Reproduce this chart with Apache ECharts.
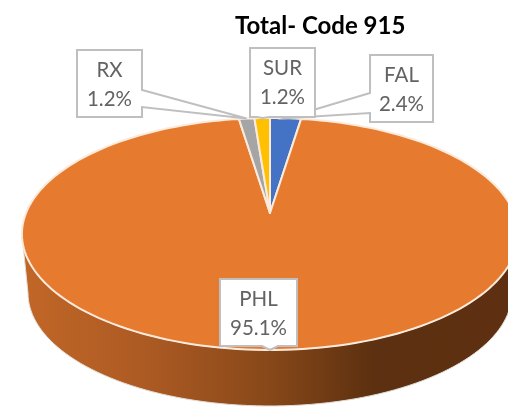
<!DOCTYPE html>
<html>
<head>
<meta charset="utf-8">
<script src="https://cdn.jsdelivr.net/npm/echarts@6/dist/echarts.min.js"></script>
<style>
  html, body { margin: 0; padding: 0; background: #fff; }
  #chart { width: 508px; height: 407px; }
</style>
</head>
<body>
<div id="chart"></div>
<script>
  const categories = ['FAL', 'PHL', 'RX', 'SUR'];
  const percents = [2.4, 95.1, 1.2, 1.2];
  const chartTitle = 'Total- Code 915';

  const sliceColors = ['#4472C4', '#E67B2F', '#A5A5A5', '#FFC000'];
  const labelFont = '20.5px Lato, "Open Sans", sans-serif';

  // label boxes, pointer leaves the box on one side between a and b
  const boxes = {
    FAL: { x: 370, y: 55, w: 63, h: 67, side: 'left', a: 93, b: 113 },
    PHL: { x: 220, y: 279, w: 77, h: 67, side: 'bottom', a: 262, b: 278 },
    RX: { x: 77, y: 50, w: 65, h: 67, side: 'right', a: 90, b: 107 },
    SUR: { x: 250, y: 48, w: 65, h: 69, side: 'bottom', a: 257, b: 270 }
  };

  // the pie is tilted with perspective, so its middle sits above the ellipse centre
  const topDisc = { cx: 270, cy: 213, a: 244, b: 112.2, k: 0.181 };
  const bottomDisc = { cx: 270, cy: 272.4, a: 238, b: 109.4, k: 0.181 };

  function rimPoint(disc, pct) {
    const t = pct / 100 * Math.PI * 2;
    const u = Math.sin(t), v = Math.cos(t);
    const w = 1 + disc.k * v;
    return [disc.cx + disc.a * u / w, disc.cy - disc.b * v / w];
  }

  function rimPoints(disc, from, to) {
    const n = Math.max(2, Math.ceil(Math.abs(to - from) * 2));
    const pts = [];
    for (let i = 0; i <= n; i++) {
      pts.push(rimPoint(disc, from + (to - from) * i / n));
    }
    return pts;
  }

  // cumulative start / end of each slice
  let sum = 0;
  const total = percents.reduce((a, b) => a + b, 0);
  const sliceData = percents.map((p, i) => {
    const start = sum / total * 100;
    sum += p;
    return { name: categories[i], value: [start, sum / total * 100, p] };
  });

  function renderSlice(params, api) {
    const start = api.value(0), end = api.value(1);
    const pts = [[topDisc.cx, topDisc.cy]].concat(rimPoints(topDisc, start, end));
    return {
      type: 'polygon',
      shape: { points: pts },
      style: {
        fill: sliceColors[params.dataIndex],
        stroke: '#FCEBDD',
        lineWidth: 2,
        lineJoin: 'round'
      }
    };
  }

  function renderWall() {
    // tangent point of the rim is a little past a quarter turn
    const turn = Math.acos(-topDisc.k) / (Math.PI * 2) * 100;
    const upper = rimPoints(topDisc, turn, 100 - turn);
    const lower = rimPoints(bottomDisc, 100 - turn, turn);
    return {
      type: 'polygon',
      shape: { points: upper.concat(lower) },
      style: {
        fill: new echarts.graphic.LinearGradient(28, 0, 508, 0, [
          { offset: 0, color: '#C06627' },
          { offset: 0.25, color: '#AC5A23' },
          { offset: 0.5, color: '#884819' },
          { offset: 0.72, color: '#5C3010' },
          { offset: 1, color: '#5E3011' }
        ], true),
        stroke: '#E2DCD6',
        lineWidth: 1
      }
    };
  }

  function renderCallout(params, api) {
    const name = categories[params.dataIndex];
    const box = boxes[name];
    const tip = rimPoint(topDisc, (api.value(0) + api.value(1)) / 2);
    const l = box.x, r = box.x + box.w, t = box.y, b = box.y + box.h;
    let pts;
    if (box.side === 'left') {
      pts = [[l, t], [r, t], [r, b], [l, b], [l, box.b], tip, [l, box.a]];
    } else if (box.side === 'right') {
      pts = [[l, t], [r, t], [r, box.a], tip, [r, box.b], [r, b], [l, b]];
    } else {
      pts = [[l, t], [r, t], [r, b], [box.b, b], tip, [box.a, b], [l, b]];
    }
    const mid = (l + r) / 2;
    const makeText = (text, y) => ({
      type: 'text',
      style: {
        text: text,
        x: mid,
        y: y,
        align: 'center',
        verticalAlign: 'middle',
        font: labelFont,
        fill: '#636363'
      }
    });
    return {
      type: 'group',
      children: [
        {
          type: 'polygon',
          shape: { points: pts },
          style: { fill: '#fff', stroke: '#BFBFBF', lineWidth: 2 }
        },
        makeText(name, t + 20),
        makeText(api.value(2).toFixed(1) + '%', t + 49)
      ]
    };
  }

  const option = {
    backgroundColor: '#fff',
    animation: false,
    title: {
      text: chartTitle,
      left: 235,
      top: 14,
      padding: 0,
      textStyle: {
        fontFamily: 'Lato',
        fontSize: 24,
        fontWeight: 'bold',
        color: '#000'
      }
    },
    series: [
      { type: 'custom', coordinateSystem: 'none', renderItem: renderWall, data: [[0]], silent: true, z: 1 },
      { type: 'custom', coordinateSystem: 'none', renderItem: renderSlice, data: sliceData, silent: true, z: 2 },
      { type: 'custom', coordinateSystem: 'none', renderItem: renderCallout, data: sliceData, silent: true, z: 3 }
    ]
  };

  const chart = echarts.init(document.getElementById('chart'), null, { renderer: 'canvas' });
  chart.setOption(option);
</script>
</body>
</html>
